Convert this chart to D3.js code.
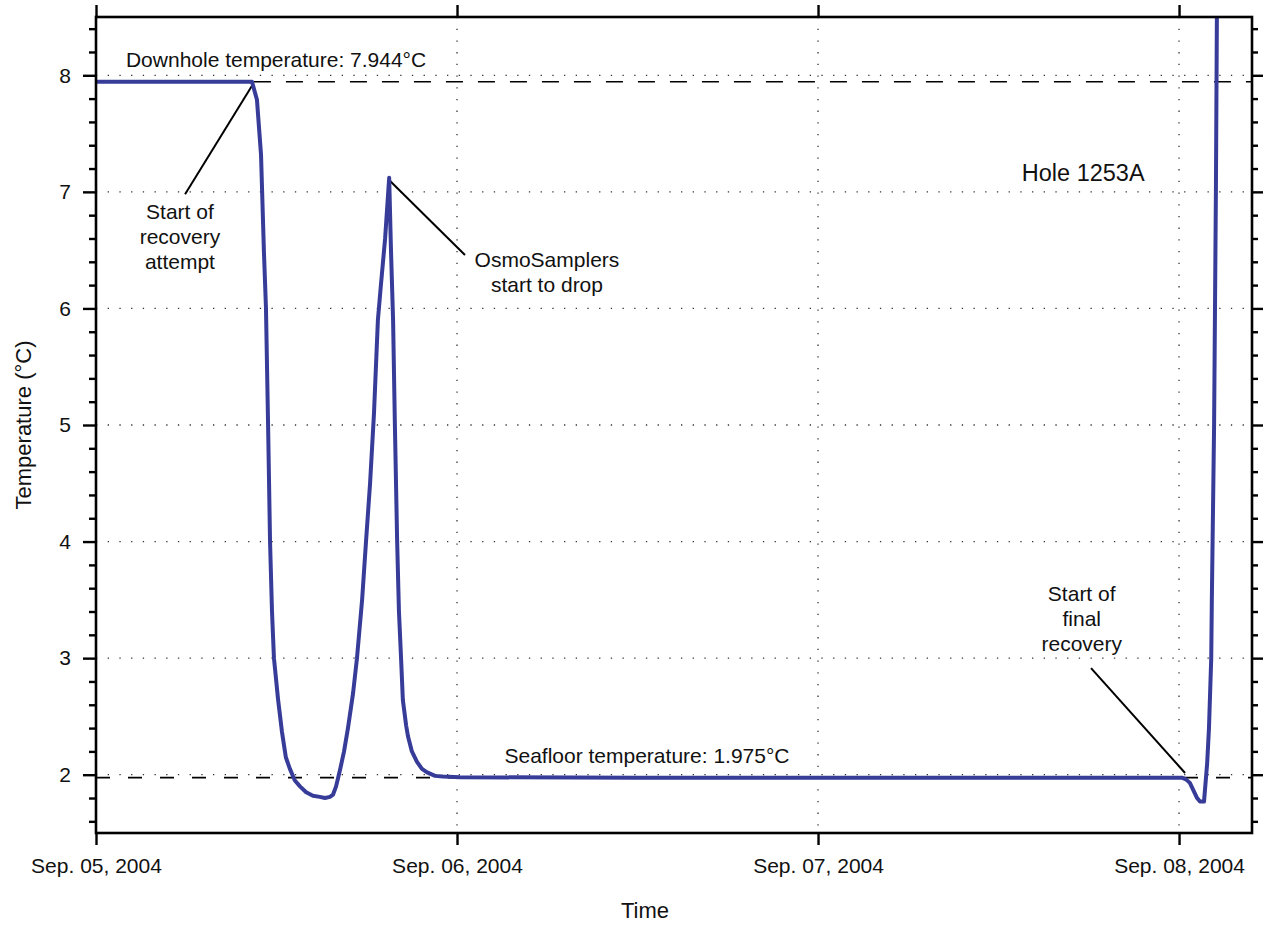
<!DOCTYPE html>
<html>
<head>
<meta charset="utf-8">
<script src="https://cdn.jsdelivr.net/npm/d3@7"></script>
<style>
  html, body { margin: 0; padding: 0; background: #fff; }
  svg { display: block; font-family: "Liberation Sans", Arial, Helvetica, sans-serif; }
</style>
</head>
<body>
<svg id="chart" width="1267" height="926"></svg>
<script>
// ---------------- data ----------------
const startTime = "2004-09-05T00:00:00Z";
const endHours = 76.85;
// hours since Sep. 05, 2004 00:00
const hours = [0, 5, 10.37, 10.70, 10.97, 11.16, 11.30, 11.44, 11.57, 11.70, 11.83,
  12.10, 12.36, 12.62, 12.89, 13.22, 13.56, 13.97, 14.42, 14.88, 15.22, 15.55, 15.76,
  15.96, 16.22, 16.49, 16.75, 17.09, 17.35, 17.69, 17.95, 18.22, 18.48, 18.74, 18.94,
  19.22, 19.49, 19.61, 19.75, 19.87, 20.02, 20.14, 20.28, 20.40, 20.62, 20.74, 21.00,
  21.34, 21.67, 22.01, 22.54, 23.06, 24.19, 36, 48, 60, 72.19, 72.46, 72.72, 72.98,
  73.20, 73.39, 73.66, 73.87, 73.99, 74.14, 74.18, 74.33, 74.45, 74.52];
const temperature = [7.944, 7.944, 7.944, 7.79, 7.32, 6.5, 6.0, 5.0, 4.0, 3.4, 3.0,
  2.65, 2.37, 2.15, 2.05, 1.95, 1.90, 1.85, 1.82, 1.81, 1.80, 1.81, 1.83,
  1.90, 2.04, 2.20, 2.40, 2.70, 3.00, 3.50, 4.00, 4.50, 5.10, 5.90, 6.20,
  6.60, 7.12, 6.50, 5.90, 5.00, 4.00, 3.40, 3.00, 2.64, 2.42, 2.33, 2.20,
  2.11, 2.05, 2.02, 1.99, 1.985, 1.978, 1.975, 1.975, 1.975, 1.975, 1.96, 1.93, 1.86,
  1.80, 1.77, 1.77, 2.10, 2.40, 3.00, 3.50, 5.00, 7.00, 8.60];
const downholeTemp = 7.944;
const seafloorTemp = 1.975;
const downholeStartHours = 10.5;
const yDomain = [1.5, 8.5];
const yMajorTicks = [2, 3, 4, 5, 6, 7, 8];
const yMinorTicks = [1.6, 1.8, 2.2, 2.4, 2.6, 2.8, 3.2, 3.4, 3.6, 3.8, 4.2, 4.4, 4.6, 4.8,
  5.2, 5.4, 5.6, 5.8, 6.2, 6.4, 6.6, 6.8, 7.2, 7.4, 7.6, 7.8, 8.2, 8.4];
const xTickDays = ["2004-09-05T00:00:00Z", "2004-09-06T00:00:00Z", "2004-09-07T00:00:00Z", "2004-09-08T00:00:00Z"];

// annotations (data coordinates: hours, °C)
const annotationLines = [
  { from: [5.92, 6.98], to: [10.37, 7.91] },
  { from: [19.55, 7.093], to: [24.53, 6.458] },
  { from: [66.15, 2.915], to: [72.40, 2.015] }
];
const noteLabels = [
  { at: [11.97, 8.074], lines: ["Downhole temperature: 7.944°C"] },
  { at: [36.63, 2.098], lines: ["Seafloor temperature: 1.975°C"] },
  { at: [5.58, 6.765], lines: ["Start of", "recovery", "attempt"] },
  { at: [29.98, 6.358], lines: ["OsmoSamplers", "start to drop"] },
  { at: [65.53, 3.493], lines: ["Start of", "final", "recovery"] }
];
const holeLabel = { at: [65.63, 7.096], text: "Hole 1253A" };

// ---------------- layout ----------------
const W = 1267, H = 926;
const margin = { top: 17, right: 15, bottom: 93, left: 96 };
const iw = W - margin.left - margin.right;
const ih = H - margin.top - margin.bottom;

const t0 = new Date(startTime);
const toDate = h => new Date(t0.getTime() + h * 3600 * 1000);

const x = d3.scaleUtc().domain([t0, toDate(endHours)]).range([0, iw]);
const y = d3.scaleLinear().domain(yDomain).range([ih, 0]);
const xh = h => x(toDate(h));

const svg = d3.select("#chart");
const g = svg.append("g").attr("transform", `translate(${margin.left},${margin.top})`);

const defs = svg.append("defs");
defs.append("clipPath").attr("id", "plotClip")
  .append("rect").attr("x", 0).attr("y", 0).attr("width", iw).attr("height", ih);

// grid (dotted)
const gridColor = "#333";
const gridDash = "1.3 10.4";
g.append("g").selectAll("line").data(yMajorTicks).join("line")
  .attr("x1", 0).attr("x2", iw)
  .attr("y1", d => y(d)).attr("y2", d => y(d))
  .attr("stroke", gridColor).attr("stroke-width", 1.3).attr("stroke-dasharray", gridDash);
g.append("g").selectAll("line").data(xTickDays.slice(1)).join("line")
  .attr("x1", d => x(new Date(d))).attr("x2", d => x(new Date(d)))
  .attr("y1", 0).attr("y2", ih)
  .attr("stroke", gridColor).attr("stroke-width", 1.3).attr("stroke-dasharray", gridDash);

// reference lines
g.append("line")
  .attr("x1", xh(downholeStartHours)).attr("x2", iw)
  .attr("y1", y(downholeTemp)).attr("y2", y(downholeTemp))
  .attr("stroke", "#000").attr("stroke-width", 1.6).attr("stroke-dasharray", "17 15");
g.append("line")
  .attr("x1", 0).attr("x2", iw)
  .attr("y1", y(seafloorTemp)).attr("y2", y(seafloorTemp))
  .attr("stroke", "#000").attr("stroke-width", 1.6).attr("stroke-dasharray", "14 18");

// annotation leader lines
g.append("g").selectAll("line").data(annotationLines).join("line")
  .attr("x1", d => xh(d.from[0])).attr("y1", d => y(d.from[1]))
  .attr("x2", d => xh(d.to[0])).attr("y2", d => y(d.to[1]))
  .attr("stroke", "#000").attr("stroke-width", 2);

// temperature series
const series = hours.map((h, i) => ({ t: toDate(h), v: temperature[i] }));
g.append("path")
  .datum(series)
  .attr("clip-path", "url(#plotClip)")
  .attr("fill", "none")
  .attr("stroke", "#373c99")
  .attr("stroke-width", 4)
  .attr("stroke-linejoin", "round")
  .attr("d", d3.line().x(d => x(d.t)).y(d => y(d.v)));

// text annotations
const fontSize = 21;
noteLabels.forEach(n => {
  const t = g.append("text")
    .attr("x", xh(n.at[0])).attr("y", y(n.at[1]))
    .attr("text-anchor", "middle")
    .attr("font-size", fontSize).attr("fill", "#111");
  n.lines.forEach((l, i) => {
    t.append("tspan").attr("x", xh(n.at[0])).attr("dy", i === 0 ? 0 : 25).text(l);
  });
});
g.append("text")
  .attr("x", xh(holeLabel.at[0])).attr("y", y(holeLabel.at[1]))
  .attr("text-anchor", "middle").attr("font-size", 23.5).attr("fill", "#111")
  .text(holeLabel.text);

// frame
g.append("rect").attr("x", 0).attr("y", 0).attr("width", iw).attr("height", ih)
  .attr("fill", "none").attr("stroke", "#000").attr("stroke-width", 2.6);

// axes
const xTicks = xTickDays.map(d => new Date(d));
function styleAxis(sel, showText) {
  sel.select(".domain").remove();
  sel.selectAll(".tick line").attr("stroke", "#000").attr("stroke-width", 2.4);
  sel.selectAll(".tick text").attr("fill", "#111").attr("font-size", fontSize)
    .attr("font-family", "Liberation Sans, Arial, Helvetica, sans-serif");
  if (!showText) sel.selectAll(".tick text").remove();
}
g.append("g").attr("transform", `translate(0,${ih})`)
  .call(d3.axisBottom(x).tickValues(xTicks).tickSize(12).tickPadding(13).tickFormat(d3.utcFormat("%b. %d, %Y")))
  .call(s => styleAxis(s, true));
g.append("g")
  .call(d3.axisTop(x).tickValues(xTicks).tickSize(12).tickFormat(""))
  .call(s => styleAxis(s, false));
g.append("g")
  .call(d3.axisLeft(y).tickValues(yMajorTicks).tickSize(13).tickPadding(12).tickFormat(d3.format("d")))
  .call(s => styleAxis(s, true));
g.append("g")
  .call(d3.axisLeft(y).tickValues(yMinorTicks).tickSize(7).tickFormat(""))
  .call(s => styleAxis(s, false));
g.append("g").attr("transform", `translate(${iw},0)`)
  .call(d3.axisRight(y).tickValues(yMajorTicks).tickSize(11).tickFormat(""))
  .call(s => styleAxis(s, false));
g.append("g").attr("transform", `translate(${iw},0)`)
  .call(d3.axisRight(y).tickValues(yMinorTicks).tickSize(6).tickFormat(""))
  .call(s => styleAxis(s, false));

// axis titles
svg.append("text")
  .attr("x", 645).attr("y", 918)
  .attr("text-anchor", "middle").attr("font-size", 22).attr("fill", "#111")
  .text("Time");
svg.append("text")
  .attr("transform", `translate(31,${margin.top + ih / 2}) rotate(-90)`)
  .attr("text-anchor", "middle").attr("font-size", 22).attr("fill", "#111")
  .text("Temperature (°C)");
</script>
</body>
</html>
